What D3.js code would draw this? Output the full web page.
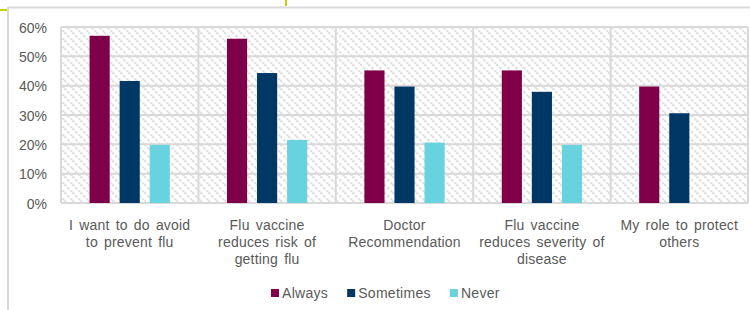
<html>
<head>
<title>Flu vaccine reasons</title>
<style>
body { margin:0; background:#fff; }
text { font-family:'Liberation Sans', Arial, sans-serif; fill:#595959; }
.tick { font-size:14px; }
.catLabel { font-size:14px; word-spacing:2px; letter-spacing:0.2px; }
.legendLabel { font-size:14px; letter-spacing:0.3px; }
</style>
<script src="https://d3js.org/d3.v7.min.js"></script>
</head>
<body>
<svg id='chart' width='750' height='310'></svg>
<script>

var categories = [
	['I want to do avoid', 'to prevent flu'],
	['Flu vaccine', 'reduces risk of', 'getting flu'],
	['Doctor', 'Recommendation'],
	['Flu vaccine', 'reduces severity of', 'disease'],
	['My role to protect', 'others']
]

var series = ['Always', 'Sometimes', 'Never']
var colors = ['#7f0049', '#003865', '#68d2de']

var always = [0.570, 0.560, 0.452, 0.452, 0.397]
var sometimes = [0.416, 0.443, 0.397, 0.379, 0.306]
var never = [0.198, 0.215, 0.206, 0.198, null]

var yTicks = [0, 0.1, 0.2, 0.3, 0.4, 0.5, 0.6]

var values = [always, sometimes, never]

var svg = d3.select('#chart')

var pLeft = 61, pRight = 748, pTop = 27, pBottom = 203

// hatch background (excel style wide downward diagonal)
var defs = svg.append('defs')
var pat = defs.append('pattern')
	.attr('id', 'hatch')
	.attr('patternUnits', 'userSpaceOnUse')
	.attr('width', 8)
	.attr('height', 8)
pat.append('rect').attr('width', 8).attr('height', 8).attr('fill', '#fff')
pat.append('path')
	.attr('d', 'M0,0 L8,8 M-2,6 L2,10 M6,-2 L10,2')
	.attr('stroke', '#e0e0e0')
	.attr('stroke-width', 2)
	.attr('stroke-dasharray', '3 1.5')

// outer frame
svg.append('line').attr('x1', 8).attr('x2', 750).attr('y1', 7.5).attr('y2', 7.5)
	.attr('stroke', '#d9d9d9').attr('stroke-width', 2)
svg.append('line').attr('x1', 8).attr('x2', 8).attr('y1', 7).attr('y2', 310)
	.attr('stroke', '#d9d9d9').attr('stroke-width', 2)
svg.append('line').attr('x1', 0).attr('x2', 7).attr('y1', 10).attr('y2', 10)
	.attr('stroke', '#c6d300').attr('stroke-width', 2)
svg.append('line').attr('x1', 286).attr('x2', 286).attr('y1', 0).attr('y2', 6)
	.attr('stroke', '#c6d300').attr('stroke-width', 2)

var x0 = d3.scaleBand()
	.domain(d3.range(categories.length))
	.range([pLeft, pRight])

var x1 = d3.scaleBand()
	.domain(series)
	.range([0, x0.bandwidth()])
	.paddingInner(0.33)
	.paddingOuter(0.95)

var y = d3.scaleLinear()
	.domain([0, 0.6])
	.range([pBottom, pTop])

svg.append('rect')
	.attr('x', pLeft).attr('y', pTop)
	.attr('width', pRight - pLeft).attr('height', pBottom - pTop)
	.attr('fill', 'url(#hatch)')

// grid
svg.selectAll('.hgrid')
	.data(yTicks)
	.enter()
	.append('line')
	.attr('x1', pLeft)
	.attr('x2', pRight)
	.attr('y1', function(d) { return y(d) })
	.attr('y2', function(d) { return y(d) })
	.attr('stroke', '#d9d9d9')
	.attr('stroke-width', 2)

svg.selectAll('.vgrid')
	.data(d3.range(categories.length + 1))
	.enter()
	.append('line')
	.attr('x1', function(d) { return pLeft + d * x0.step() })
	.attr('x2', function(d) { return pLeft + d * x0.step() })
	.attr('y1', pTop)
	.attr('y2', pBottom)
	.attr('stroke', '#d9d9d9')
	.attr('stroke-width', 2)

// y axis labels
var yAxis = d3.axisLeft(y)
	.tickValues(yTicks)
	.tickFormat(d3.format('.0%'))
	.tickSize(0)
	.tickPadding(14)
var gy = svg.append('g')
	.attr('transform', 'translate(' + pLeft + ',0)')
	.call(yAxis)
gy.select('.domain').remove()
gy.attr('font-family', null).attr('font-size', null)
gy.selectAll('text')
	.attr('class', 'tick')
	.attr('fill', '#595959')
	.attr('dy', '0.36em')

// bars
series.forEach(function(s, si) {
	var pts = values[si]
		.map(function(v, i) { return { cat: i, v: v } })
		.filter(function(d) { return d.v != null })
	svg.selectAll('.bar' + si)
		.data(pts)
		.enter()
		.append('rect')
		.attr('class', 'bar' + si)
		.attr('x', function(d) { return x0(d.cat) + x1(s) })
		.attr('y', function(d) { return y(d.v) })
		.attr('width', x1.bandwidth())
		.attr('height', function(d) { return y(0) - y(d.v) })
		.attr('fill', colors[si])
})

// category labels
categories.forEach(function(lines, i) {
	var cx = x0(i) + x0.bandwidth() / 2
	var t = svg.append('text')
		.attr('class', 'catLabel')
		.attr('text-anchor', 'middle')
	lines.forEach(function(l, j) {
		t.append('tspan')
			.attr('x', cx)
			.attr('y', 230 + j * 17)
			.text(l)
	})
})

// legend
var legend = svg.append('g')
var lx = 271
series.forEach(function(s, si) {
	legend.append('rect')
		.attr('x', lx).attr('y', 289)
		.attr('width', 8).attr('height', 8)
		.attr('fill', colors[si])
	var t = legend.append('text')
		.attr('class', 'legendLabel')
		.attr('x', lx + 11)
		.attr('y', 298)
		.text(s)
	lx += 11 + t.node().getComputedTextLength() + 19
})

</script>
</body>
</html>
